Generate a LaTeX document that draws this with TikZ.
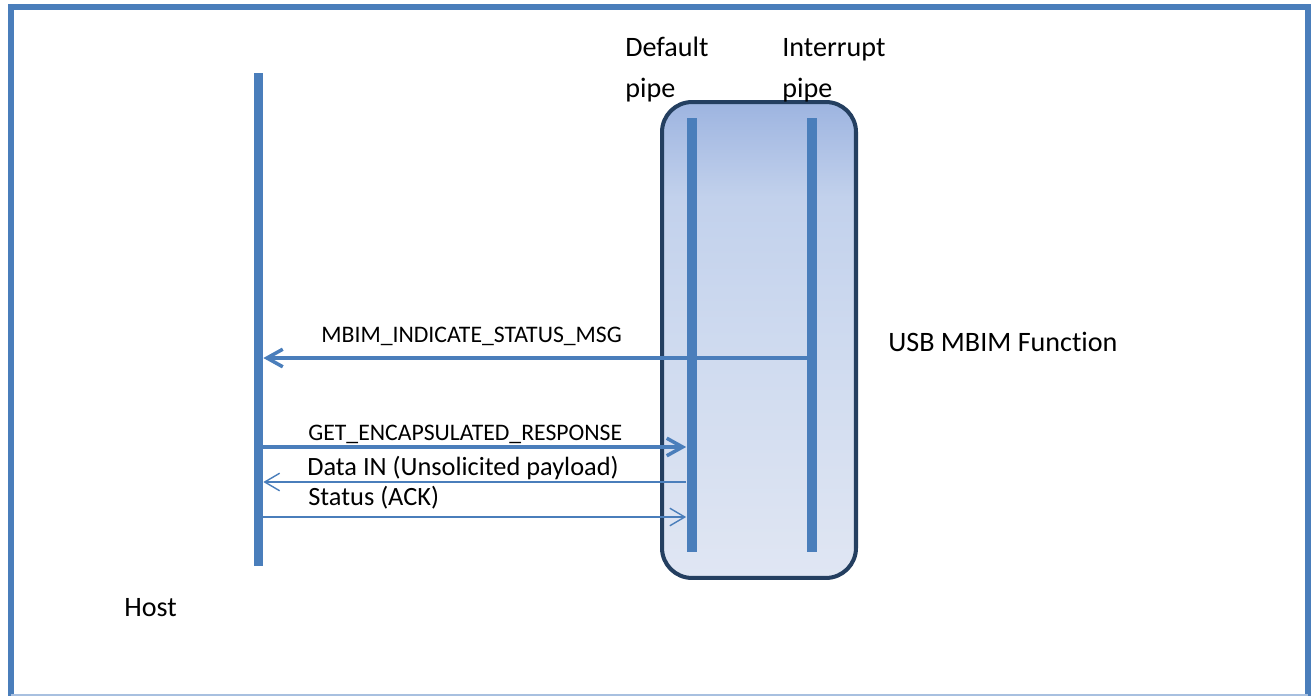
\documentclass[tikz,border=0pt]{standalone}
\usepackage{fontspec}
\setmainfont{Carlito}[Ligatures=NoCommon]
\usetikzlibrary{arrows.meta}

\definecolor{lineblue}{RGB}{74,126,187}
\definecolor{navy}{RGB}{36,63,96}
\definecolor{boxtop}{RGB}{157,180,224}
\definecolor{boxhi}{RGB}{194,209,236}
\definecolor{boxmid}{RGB}{206,218,239}
\definecolor{boxbot}{RGB}{224,230,243}
\definecolor{edgeblue}{RGB}{168,192,224}
\pgfdeclareverticalshading{fnshade}{100bp}{color(0bp)=(boxbot); color(25bp)=(boxbot);
  color(50bp)=(boxmid); color(65bp)=(boxhi); color(75bp)=(boxtop); color(100bp)=(boxtop)}

\begin{document}
\begin{tikzpicture}[x=0.02cm, y=-0.02cm,
    lifeline/.style={fill=lineblue, inner sep=0pt},
    fnbox/.style={draw=navy, line width=2.3pt, rounded corners=0.6cm, shading=fnshade, inner sep=0pt},
    msg/.style={draw=lineblue, line width=2pt, -{Straight Barb[length=9pt,width=10pt]}},
    thinmsg/.style={draw=lineblue, line width=0.8pt, -{Straight Barb[length=8.5pt,width=10pt]}},
    bigtxt/.style={inner sep=0pt, font=\fontsize{16}{23.2}\selectfont},
    midtxt/.style={inner sep=0pt, font=\fontsize{15}{18}\selectfont},
    smalltxt/.style={inner sep=0pt, font=\fontsize{13.5}{16}\selectfont}]
    \useasboundingbox (0,0) rectangle (1311,696);
    % frame
    \draw[lineblue, line width=3.4pt] (11,696) -- (11,7) -- (1308,7) -- (1308,696);
    \draw[edgeblue, line width=0.6pt] (11,695) -- (1308,695);
    % function box and lifelines
    \node[fnbox, minimum width=3.88cm, minimum height=9.52cm] (usb) at (759,340) {};
    \node[lifeline, minimum width=0.18cm, minimum height=9.86cm] (host) at (258.5,319.5) {};
    \node[lifeline, minimum width=0.2cm, minimum height=8.68cm] (dflt) at (691.5,335) {};
    \node[lifeline, minimum width=0.2cm, minimum height=8.68cm] (intr) at (811.5,335) {};
    % message levels
    \coordinate (m1) at (0,358);
    \coordinate (m2) at (0,447);
    \coordinate (m3) at (0,482);
    \coordinate (m4) at (0,517);
    \draw[msg] (intr.center |- m1) -- (host.east |- m1);
    \draw[msg] (host.east |- m2) -- (dflt.west |- m2);
    \draw[thinmsg] (dflt.west |- m3) -- (host.east |- m3);
    \draw[thinmsg] (host.east |- m4) -- (dflt.west |- m4);
    % labels
    \node[smalltxt, anchor=base west] (lmsg) at (321,342) {MBIM\_INDICATE\_STATUS\_MSG};
    \node[smalltxt, anchor=base west] (lget) at (308,440) {GET\_ENCAPSULATED\_RESPONSE};
    \node[midtxt, anchor=base west] (ldata) at (307,475) {Data IN (Unsolicited payload)};
    \node[midtxt, anchor=base west] (lack) at (308,505) {Status (ACK)};
    \node[bigtxt, anchor=base west, align=left] (ldflt) at (625,97) {Default\\pipe};
    \node[bigtxt, anchor=base west, align=left] (lintr) at (782,97) {Interrupt\\pipe};
    \node[bigtxt, anchor=base west] (lusb) at (888,351) {USB MBIM Function};
    \node[bigtxt, anchor=base west] (lhost) at (124,616) {Host};
\end{tikzpicture}
\end{document}
